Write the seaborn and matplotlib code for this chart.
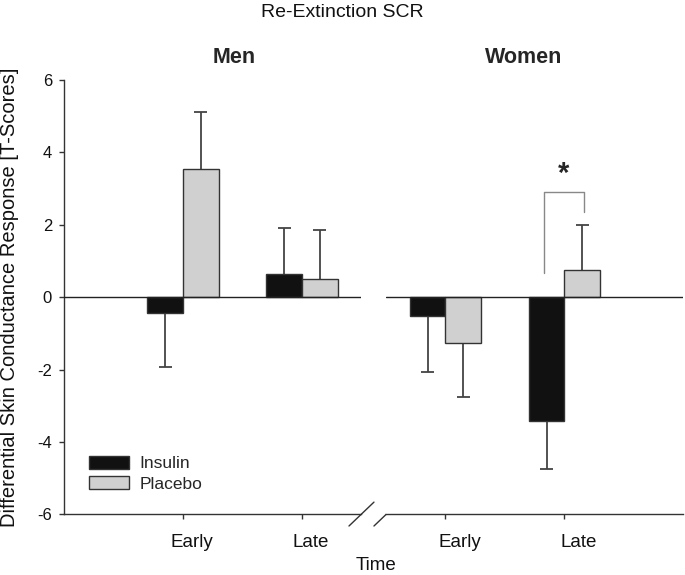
import matplotlib
matplotlib.use("Agg")
import matplotlib.pyplot as plt
import matplotlib.transforms as mtransforms
import pandas as pd
import seaborn as sns

GROUPS = ["Men", "Women"]
TIMES = ["Early", "Late"]
TREATMENTS = ["Insulin", "Placebo"]

MEN_INSULIN = [-0.43, 0.63]
MEN_PLACEBO = [3.53, 0.50]
WOMEN_INSULIN = [-0.52, -3.42]
WOMEN_PLACEBO = [-1.26, 0.75]

MEN_INSULIN_SEM = [1.51, 1.28]
MEN_PLACEBO_SEM = [1.58, 1.35]
WOMEN_INSULIN_SEM = [1.55, 1.32]
WOMEN_PLACEBO_SEM = [1.50, 1.25]

Y_TICKS = [-6, -4, -2, 0, 2, 4, 6]

# significance bracket (women, late): left foot, top, right foot
SIG_BRACKET = (0.66, 2.91, 2.35)

PALETTE = {"Insulin": "#111111", "Placebo": "#d0d0d0"}
LINE = "#333333"
ERR = "#444444"
CAP_HALF = 0.055  # half cap width, in category units

sns.set_theme(style="white")
plt.rcParams["font.family"] = ["Liberation Sans", "DejaVu Sans"]
plt.rcParams["axes.unicode_minus"] = False


def build_frame():
    rows = []
    table = {
        ("Men", "Insulin"): (MEN_INSULIN, MEN_INSULIN_SEM),
        ("Men", "Placebo"): (MEN_PLACEBO, MEN_PLACEBO_SEM),
        ("Women", "Insulin"): (WOMEN_INSULIN, WOMEN_INSULIN_SEM),
        ("Women", "Placebo"): (WOMEN_PLACEBO, WOMEN_PLACEBO_SEM),
    }
    for (group, treat), (vals, sems) in table.items():
        for t, v, s in zip(TIMES, vals, sems):
            rows.append({"Group": group, "Treatment": treat, "Time": t,
                         "Score": v, "SEM": s})
    return pd.DataFrame(rows)


def draw_panel(ax, sub):
    sns.barplot(data=sub, x="Time", y="Score", hue="Treatment",
                order=TIMES, hue_order=TREATMENTS, palette=PALETTE,
                saturation=1, width=0.6, errorbar=None, legend=False,
                edgecolor=LINE, linewidth=1.0, ax=ax, zorder=2)
    # one-sided error bars, pointing away from zero
    for cont, treat in zip(ax.containers, TREATMENTS):
        for bar, t in zip(cont, TIMES):
            row = sub[(sub.Treatment == treat) & (sub.Time == t)].iloc[0]
            x = bar.get_x() + bar.get_width() / 2
            v, s = row.Score, row.SEM
            end = v + s if v >= 0 else v - s
            ax.plot([x, x], [v, end], color=ERR, lw=1.3, zorder=1,
                    solid_capstyle="butt")
            ax.plot([x - CAP_HALF, x + CAP_HALF], [end, end], color=ERR,
                    lw=1.3, zorder=1, solid_capstyle="butt")
    ax.axhline(0, color="#222222", lw=1.0, zorder=3)
    ax.set_ylim(-6, 6)
    ax.set_xlabel("")
    ax.set_ylabel("")
    for sp in ["top", "right"]:
        ax.spines[sp].set_visible(False)
    for sp in ["left", "bottom"]:
        ax.spines[sp].set_color(LINE)
        ax.spines[sp].set_linewidth(1.0)
    ax.tick_params(axis="x", direction="out", length=3.5, width=1.0,
                   color=LINE, labelsize=13.5, pad=10.5, bottom=True,
                   labelcolor="#111111")


def main():
    df = build_frame()
    fig = plt.figure(figsize=(6.85, 5.75), dpi=100)
    h = 0.7553
    ax_m = fig.add_axes([0.0934, 0.1056, 0.4343, h])
    ax_w = fig.add_axes([0.5635, 0.1056, 0.4343, h], sharey=ax_m)

    draw_panel(ax_m, df[df.Group == "Men"])
    draw_panel(ax_w, df[df.Group == "Women"])

    ax_m.set_xlim(-1.0, 1.5)
    ax_w.set_xlim(-0.5, 2.0)

    ax_m.set_yticks(Y_TICKS)
    ax_m.tick_params(axis="y", direction="out", length=3.6, width=1.0,
                     color=LINE, labelsize=12, pad=5, left=True,
                     labelcolor="#111111")
    ax_w.spines["left"].set_visible(False)
    ax_w.tick_params(axis="y", left=False, labelleft=False)

    ax_m.set_ylabel("Differential Skin Conductance Response [T-Scores]",
                    fontsize=14.5, color="#111111")
    ax_m.yaxis.set_label_coords(-0.15, 0.5)

    # shift x tick labels slightly right as in the original
    for ax, dx in [(ax_m, 0.09), (ax_w, 0.14)]:
        off = mtransforms.ScaledTranslation(dx, 0, fig.dpi_scale_trans)
        for lab in ax.get_xticklabels():
            lab.set_transform(lab.get_transform() + off)

    # panel titles
    ax_m.text(0.434, 6.48, "Men", ha="center", va="baseline",
              fontsize=15.5, fontweight="bold", clip_on=False)
    ax_w.text(0.66, 6.48, "Women", ha="center", va="baseline",
              fontsize=15.5, fontweight="bold", clip_on=False)

    # significance bracket on women late
    bars = [c[1] for c in ax_w.containers]
    xl = bars[0].get_x() + bars[0].get_width() / 2 - 0.025
    xr = bars[1].get_x() + bars[1].get_width() / 2 + 0.015
    y0, ytop, y1 = SIG_BRACKET
    ax_w.plot([xl, xl, xr, xr], [y0, ytop, ytop, y1], color="#888888",
              lw=1.0, zorder=4)
    ax_w.text((xl + xr) / 2, ytop + 0.1, "*", ha="center", va="bottom",
              fontsize=21, fontweight="bold")

    # legend
    ax_m.legend(ax_m.containers, TREATMENTS, loc="upper left",
                bbox_to_anchor=(0.084, 0.134), frameon=False, fontsize=12.5,
                borderpad=0, borderaxespad=0, handlelength=2.3,
                handleheight=0.74, handletextpad=0.6, labelspacing=0.28)

    # axis break marks
    for x0 in [0.958, 1.042]:
        ax_m.plot([x0, x0 + 0.084], [-0.027, 0.028], transform=ax_m.transAxes,
                  color=LINE, lw=1.0, clip_on=False)

    fig.text(0.5, 1 - 17.3 / 575, "Re-Extinction SCR", ha="center",
             va="baseline", fontsize=14, color="#111111")
    fig.text(376 / 685, 1.0 / 575, "Time", ha="center", va="bottom",
             fontsize=13.5, color="#111111")

    fig.savefig("out.png", dpi=100)
    plt.close(fig)


if __name__ == "__main__":
    main()
